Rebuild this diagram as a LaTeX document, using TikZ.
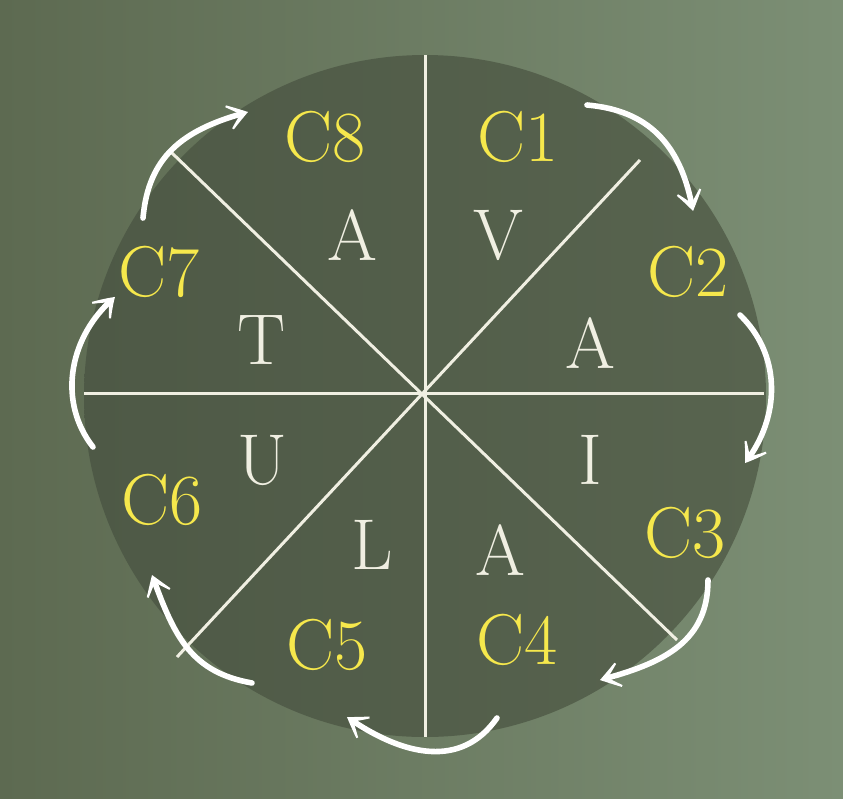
\documentclass[tikz,border=0pt]{standalone}
\usepackage{tikz}
\usetikzlibrary{arrows.meta, bending}

\definecolor{bgleft}{HTML}{5D6A51}
\definecolor{bgmid}{HTML}{707F66}
\definecolor{bgright}{HTML}{7C8F75}
\definecolor{discL}{HTML}{4E5946}
\definecolor{discR}{HTML}{58644F}
\definecolor{chalk}{HTML}{F0EFE2}
\definecolor{gold}{HTML}{F6E84C}

\begin{document}
\begin{tikzpicture}[x=0.5pt, y=-0.5pt,
		spoke/.style={chalk, line width=1.5pt},
		cyc/.style={white, line width=2.8pt, line cap=round,
			-{Stealth[length=15pt, width=20pt, inset=11pt, bend]}},
		cname/.style={text=gold, inner sep=0pt, font=\fontsize{36}{40}\selectfont},
		letter/.style={text=chalk, inner sep=0pt, font=\fontsize{36}{40}\selectfont}]
	\useasboundingbox (0,0) rectangle (843,799);
	% background and disc
	\shade[left color=bgleft, middle color=bgmid, right color=bgright] (0,0) rectangle (843,799);
	\shade[left color=discL, right color=discR] (425,396) circle (341);
	% spokes
	\coordinate (o) at (425,393);
	\coordinate (n) at (425,55);
	\coordinate (s) at (425,737);
	\coordinate (w) at (84,393);
	\coordinate (e) at (764,393);
	\coordinate (nw) at (172,153);
	\coordinate (se) at (677,640);
	\coordinate (ne) at (640,160);
	\coordinate (sw) at (177,657);
	\draw[spoke] (n) -- (s);
	\draw[spoke] (w) -- (e);
	\draw[spoke] (nw) -- (se);
	\draw[spoke] (ne) -- (sw);
	% sector names
	\node[cname] (c1) at (518,137) {C1};
	\node[cname] (c2) at (688,272) {C2};
	\node[cname] (c3) at (685,533) {C3};
	\node[cname] (c4) at (517,640) {C4};
	\node[cname] (c5) at (327,645) {C5};
	\node[cname] (c6) at (162,500) {C6};
	\node[cname] (c7) at (159,272) {C7};
	\node[cname] (c8) at (325,137) {C8};
	% letters
	\node[letter] (l1) at (498,235) {V};
	\node[letter] (l2) at (590,343) {A};
	\node[letter] (l3) at (590,460) {I};
	\node[letter] (l4) at (500,550) {A};
	\node[letter] (l5) at (372,545) {L};
	\node[letter] (l6) at (262,460) {U};
	\node[letter] (l7) at (262,340) {T};
	\node[letter] (l8) at (352,235) {A};
	% cycle arrows
	\coordinate (a1) at (587,105);  \coordinate (b1) at (693,211);
	\coordinate (a2) at (740,315);  \coordinate (b2) at (745,463);
	\coordinate (a3) at (708,580);  \coordinate (b3) at (600,680);
	\coordinate (a4) at (497,718);  \coordinate (b4) at (347,717);
	\coordinate (a5) at (252,683);  \coordinate (b5) at (152,575);
	\coordinate (a6) at (93,447);   \coordinate (b6) at (115,297);
	\coordinate (a7) at (143,218);  \coordinate (b7) at (248,112);
	\draw[cyc] (a1) to[out=-5, in=100, looseness=1.1] (b1);
	\draw[cyc] (a2) to[out=-44, in=52] (b2);
	\draw[cyc] (a3) to[out=-90, in=15, looseness=1.1] (b3);
	\draw[cyc] (a4) to[out=-125, in=-35, looseness=1.1] (b4);
	\draw[cyc] (a5) to[out=170, in=-70, looseness=1.1] (b5);
	\draw[cyc] (a6) to[out=128, in=-140] (b6);
	\draw[cyc] (a7) to[out=85, in=195, looseness=1.1] (b7);
\end{tikzpicture}
\end{document}
